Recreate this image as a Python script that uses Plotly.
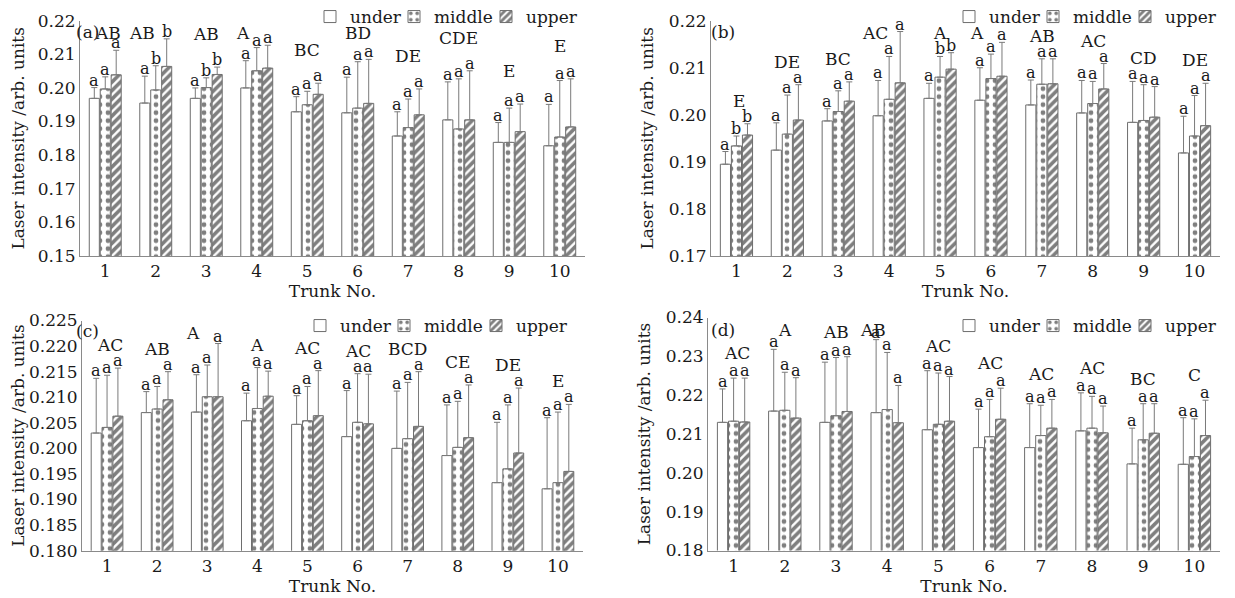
import plotly.graph_objects as go

OFF = 8                     # page body margin of the html page
FW, FH = 1227, 590          # figure size so that it fits the 1235x598 window
FONT = "DejaVu Serif"


def fx(px):
    return (px - OFF) / FW


def fy(py):
    return 1 - (py - OFF) / FH


trunks = list(range(1, 11))
tick_text = [str(t) for t in trunks]
positions = ["under", "middle", "upper"]

# ---------------- panel (a) ----------------
a_under = [0.1969, 0.1955, 0.1969, 0.2000, 0.1929, 0.1926, 0.1857, 0.1905, 0.1838, 0.1828]
a_under_sd = [0.0032, 0.0080, 0.0031, 0.0081, 0.0045, 0.0106, 0.0072, 0.0113, 0.0059, 0.0123]
a_middle = [0.1997, 0.1994, 0.2001, 0.2051, 0.1950, 0.1940, 0.1882, 0.1878, 0.1838, 0.1854]
a_middle_sd = [0.0036, 0.0072, 0.0029, 0.0069, 0.0040, 0.0138, 0.0085, 0.0149, 0.0102, 0.0168]
a_upper = [0.2039, 0.2064, 0.2040, 0.2059, 0.1981, 0.1954, 0.1920, 0.1905, 0.1870, 0.1884]
a_upper_sd = [0.0073, 0.0082, 0.0022, 0.0068, 0.0033, 0.0131, 0.0077, 0.0146, 0.0082, 0.0143]
a_group = ["AB", "AB", "AB", "A", "BC", "BD", "DE", "CDE", "E", "E"]
a_under_lt = ["a"] * 10
a_middle_lt = ["a", "b", "b", "a", "a", "a", "a", "a", "a", "a"]
a_upper_lt = ["a", "b", "b", "a", "a", "a", "a", "a", "a", "a"]

# ---------------- panel (b) ----------------
b_under = [0.1895, 0.1925, 0.1987, 0.1998, 0.2035, 0.2031, 0.2021, 0.2004, 0.1984, 0.1919]
b_under_sd = [0.0027, 0.0058, 0.0026, 0.0075, 0.0032, 0.0069, 0.0053, 0.0069, 0.0087, 0.0078]
b_middle = [0.1934, 0.1959, 0.2007, 0.2033, 0.2080, 0.2077, 0.2065, 0.2024, 0.1988, 0.1955]
b_middle_sd = [0.0021, 0.0083, 0.0044, 0.0091, 0.0044, 0.0052, 0.0054, 0.0047, 0.0076, 0.0086]
b_upper = [0.1957, 0.1989, 0.2029, 0.2068, 0.2097, 0.2082, 0.2066, 0.2055, 0.1995, 0.1977]
b_upper_sd = [0.0024, 0.0075, 0.0041, 0.0109, 0.0035, 0.0072, 0.0053, 0.0054, 0.0065, 0.0090]
b_group = ["E", "DE", "BC", "AC", "A", "A", "AB", "AC", "CD", "DE"]
b_under_lt = ["a"] * 10
b_middle_lt = ["b", "a", "a", "a", "b", "a", "a", "a", "a", "a"]
b_upper_lt = ["b", "a", "a", "a", "b", "a", "a", "a", "a", "a"]

# ---------------- panel (c) ----------------
c_under = [0.2030, 0.2070, 0.2071, 0.2054, 0.2047, 0.2023, 0.2000, 0.1986, 0.1933, 0.1921]
c_under_sd = [0.0107, 0.0041, 0.0073, 0.0054, 0.0056, 0.0090, 0.0112, 0.0099, 0.0118, 0.0139]
c_middle = [0.2041, 0.2077, 0.2101, 0.2078, 0.2054, 0.2051, 0.2019, 0.2002, 0.1960, 0.1933]
c_middle_sd = [0.0102, 0.0044, 0.0062, 0.0080, 0.0067, 0.0095, 0.0110, 0.0090, 0.0125, 0.0138]
c_upper = [0.2063, 0.2095, 0.2101, 0.2102, 0.2064, 0.2048, 0.2043, 0.2021, 0.1991, 0.1955]
c_upper_sd = [0.0094, 0.0055, 0.0104, 0.0049, 0.0088, 0.0097, 0.0107, 0.0103, 0.0127, 0.0131]
c_group = ["AC", "AB", "A", "A", "AC", "AC", "BCD", "CE", "DE", "E"]
c_under_lt = ["a"] * 10
c_middle_lt = ["a"] * 10
c_upper_lt = ["a"] * 10

# ---------------- panel (d) ----------------
d_under = [0.2130, 0.2159, 0.2130, 0.2155, 0.2111, 0.2065, 0.2065, 0.2108, 0.2023, 0.2022]
d_under_sd = [0.0086, 0.0159, 0.0155, 0.0188, 0.0152, 0.0099, 0.0113, 0.0098, 0.0092, 0.0120]
d_middle = [0.2133, 0.2161, 0.2147, 0.2163, 0.2125, 0.2093, 0.2096, 0.2115, 0.2085, 0.2042]
d_middle_sd = [0.0111, 0.0098, 0.0150, 0.0147, 0.0132, 0.0096, 0.0078, 0.0082, 0.0093, 0.0097]
d_upper = [0.2131, 0.2141, 0.2158, 0.2129, 0.2133, 0.2138, 0.2115, 0.2103, 0.2102, 0.2096]
d_upper_sd = [0.0113, 0.0104, 0.0141, 0.0096, 0.0115, 0.0080, 0.0074, 0.0069, 0.0076, 0.0091]
d_group = ["AC", "A", "AB", "AB", "AC", "AC", "AC", "AC", "BC", "C"]
d_under_lt = ["a"] * 10
d_middle_lt = ["a"] * 10
d_upper_lt = ["a"] * 10

y_title = "Laser intensity /arb. units"
x_title = "Trunk No."

panels = [
    dict(tag="(a)", vals=[a_under, a_middle, a_upper], sds=[a_under_sd, a_middle_sd, a_upper_sd],
         lts=[a_under_lt, a_middle_lt, a_upper_lt], groups=a_group,
         xpx=(80, 585), ypx=(20.7, 256), yr=(0.15, 0.22), dtick=0.01, fmt=".2f",
         leg=(583, 17), tagpos=(74, 32), lift=33),
    dict(tag="(b)", vals=[b_under, b_middle, b_upper], sds=[b_under_sd, b_middle_sd, b_upper_sd],
         lts=[b_under_lt, b_middle_lt, b_upper_lt], groups=b_group,
         xpx=(711, 1220), ypx=(20.7, 256), yr=(0.17, 0.22), dtick=0.01, fmt=".2f",
         leg=(1222, 17), tagpos=(709, 32), lift=23),
    dict(tag="(c)", vals=[c_under, c_middle, c_upper], sds=[c_under_sd, c_middle_sd, c_upper_sd],
         lts=[c_under_lt, c_middle_lt, c_upper_lt], groups=c_group,
         xpx=(82, 583), ypx=(320.5, 550.7), yr=(0.18, 0.225), dtick=0.005, fmt=".3f",
         leg=(573, 326), tagpos=(74, 331), lift=23),
    dict(tag="(d)", vals=[d_under, d_middle, d_upper], sds=[d_under_sd, d_middle_sd, d_upper_sd],
         lts=[d_under_lt, d_middle_lt, d_upper_lt], groups=d_group,
         xpx=(708, 1220), ypx=(317.5, 550.5), yr=(0.18, 0.24), dtick=0.01, fmt=".2f",
         leg=(1222, 326), tagpos=(709, 330), lift=25),
]

patterns = [
    dict(shape=""),
    dict(shape=".", fgcolor="black", bgcolor="white", size=8, solidity=0.28),
    dict(shape="/", fgcolor="black", bgcolor="white", size=6, solidity=0.6),
]
legend_widths = [39, 47, None]

BARGAP = 0.35
slot = (1 - BARGAP) / 3
offsets = [-slot, 0.0, slot]

fig = go.Figure()
annotations = []
layout = dict(
    width=FW, height=FH,
    margin=dict(l=0, r=0, t=0, b=0, autoexpand=False),
    paper_bgcolor="white", plot_bgcolor="white",
    barmode="group", bargap=BARGAP, bargroupgap=0.08,
    font=dict(family=FONT, size=17, color="#1a1a1a"),
)

for i, p in enumerate(panels):
    n = "" if i == 0 else str(i + 1)
    xa, ya = "x" + n, "y" + n
    leg = "legend" + n
    for s in range(3):
        fig.add_trace(go.Bar(
            x=trunks, y=p["vals"][s], name=positions[s],
            xaxis=xa, yaxis=ya, legend=leg, legendwidth=legend_widths[s],
            marker=dict(color="white", line=dict(color="#6e6e6e", width=1),
                        pattern=patterns[s]),
            error_y=dict(type="data", symmetric=False, array=p["sds"][s],
                         arrayminus=[0] * len(trunks), color="#7a7a7a",
                         thickness=1, width=3),
        ))
    x0, x1 = p["xpx"]
    y0, y1 = p["ypx"]
    layout["xaxis" + n] = dict(
        domain=[fx(x0), fx(x1)], anchor=ya, range=[0.5, 10.5],
        tickmode="array", tickvals=trunks, ticktext=tick_text,
        showline=True, linecolor="#8a8a8a", linewidth=1, ticks="",
        showgrid=False, zeroline=False, fixedrange=True,
        tickfont=dict(family=FONT, size=17),
        title=dict(text=x_title, font=dict(family=FONT, size=17), standoff=3),
    )
    layout["yaxis" + n] = dict(
        domain=[fy(y1), fy(y0)], anchor=xa, range=list(p["yr"]),
        tick0=p["yr"][0], dtick=p["dtick"], tickformat=p["fmt"],
        showline=True, linecolor="#8a8a8a", linewidth=1, ticks="",
        showgrid=False, zeroline=False, fixedrange=True,
        tickfont=dict(family=FONT, size=17),
        title=dict(text=y_title, font=dict(family=FONT, size=17), standoff=10),
    )
    lx, ly = p["leg"]
    layout[leg] = dict(
        x=fx(lx), xanchor="right", y=fy(ly), yanchor="middle",
        orientation="h", bgcolor="rgba(0,0,0,0)", borderwidth=0,
        font=dict(family=FONT, size=17), itemwidth=30, tracegroupgap=0,
    )
    # panel tag
    tx, ty = p["tagpos"]
    annotations.append(dict(text=p["tag"], xref="paper", yref="paper",
                            x=fx(tx), y=fy(ty), xanchor="left", yanchor="middle",
                            showarrow=False, font=dict(family=FONT, size=17)))
    # letters above each bar
    ymin, ymax = p["yr"]
    ppu = (y1 - y0) / (ymax - ymin)
    limit = ymax - 12 / ppu
    for k, t in enumerate(trunks):
        caps = []
        for s in range(3):
            cap = p["vals"][s][k] + p["sds"][s][k]
            caps.append(cap)
            annotations.append(dict(text=p["lts"][s][k], xref=xa, yref=ya,
                                    x=t + offsets[s], y=cap, xanchor="center",
                                    yanchor="bottom", yshift=-4, showarrow=False,
                                    font=dict(family=FONT, size=16)))
        top = max(caps)
        gy = top + p["lift"] / ppu
        xs = 0
        if gy > limit:
            gy = limit
            if (gy - top) * ppu < 15:
                xs = -14
        annotations.append(dict(text=p["groups"][k], xref=xa, yref=ya,
                                x=t, y=gy, xanchor="center", yanchor="middle",
                                xshift=xs + (3 if k == 0 else 0), showarrow=False,
                                font=dict(family=FONT, size=17)))

layout["annotations"] = annotations
fig.update_layout(**layout)
fig.write_html("out.html")
